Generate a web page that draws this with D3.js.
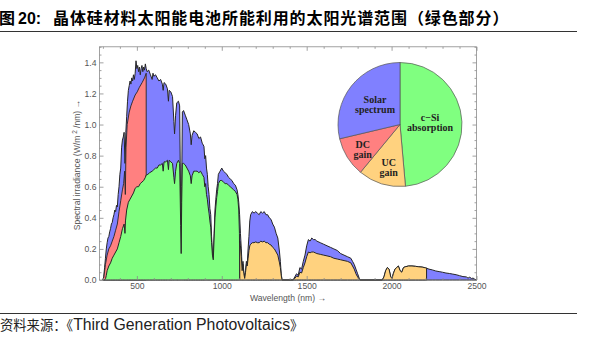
<!DOCTYPE html>
<html><head><meta charset="utf-8">
<script src="https://cdn.jsdelivr.net/npm/d3@7"></script>
<style>body{margin:0;background:#fff}svg{display:block}</style>
</head><body>
<svg id="c" width="593" height="340"></svg>
<script>
// ---------- DATA ----------
const titleCN = "晶体硅材料太阳能电池所能利用的太阳光谱范围（绿色部分）";
const sourceCN = "资料来源：《";
const sourceEN = "Third Generation Photovoltaics";
const xLabel = "Wavelength (nm) →";
const xTicks = [500, 1000, 1500, 2000, 2500];
const yTicks = [0, 0.2, 0.4, 0.6, 0.8, 1.0, 1.2, 1.4];

// AM1.5 solar spectrum outline [nm, W/m2/nm]
const solarSpectrum = [[300,0],[305,0.02],[310,0.08],[315,0.14],[320,0.2],[325,0.24],[330,0.27],[335,0.28],[340,0.31],[345,0.33],[350,0.36],[355,0.37],[360,0.4],[365,0.42],[370,0.45],[375,0.44],[380,0.48],[385,0.47],[390,0.55],[395,0.6],[400,0.68],[405,0.72],[410,0.85],[415,0.9],[420,0.92],[425,0.95],[430,0.75],[435,0.95],[440,1.05],[445,1.15],[450,1.22],[455,1.25],[460,1.28],[465,1.26],[470,1.3],[475,1.28],[480,1.32],[485,1.29],[490,1.33],[495,1.41],[500,1.36],[505,1.38],[510,1.34],[515,1.37],[520,1.32],[525,1.36],[530,1.38],[535,1.34],[540,1.37],[545,1.35],[550,1.39],[555,1.36],[560,1.34],[570,1.35],[580,1.32],[590,1.29],[595,1.33],[600,1.31],[610,1.32],[620,1.3],[630,1.28],[640,1.29],[650,1.26],[655,1.22],[660,1.27],[670,1.26],[680,1.23],[686,1.15],[690,1.22],[700,1.21],[710,1.18],[718,1.02],[722,0.94],[728,1.06],[735,1.14],[745,1.15],[752,1.12],[758,0.45],[761,0.17],[764,0.6],[768,1.08],[775,1.09],[785,1.06],[795,1.03],[805,1.0],[815,0.94],[820,0.87],[825,0.93],[835,0.96],[845,0.95],[855,0.94],[865,0.91],[875,0.92],[885,0.88],[895,0.86],[900,0.78],[905,0.8],[910,0.72],[915,0.68],[920,0.6],[925,0.55],[930,0.46],[935,0.42],[940,0.28],[945,0.18],[950,0.14],[955,0.3],[960,0.45],[965,0.52],[970,0.58],[975,0.62],[980,0.68],[990,0.7],[1000,0.72],[1010,0.7],[1020,0.69],[1030,0.68],[1040,0.66],[1050,0.65],[1060,0.64],[1070,0.62],[1080,0.61],[1090,0.58],[1095,0.55],[1100,0.5],[1105,0.42],[1110,0.3],[1115,0.2],[1120,0.08],[1125,0.12],[1130,0.05],[1135,0.02],[1140,0.06],[1145,0.12],[1150,0.1],[1155,0.2],[1160,0.28],[1165,0.38],[1170,0.42],[1180,0.44],[1190,0.43],[1200,0.44],[1210,0.43],[1220,0.42],[1230,0.44],[1240,0.43],[1250,0.44],[1260,0.42],[1270,0.42],[1280,0.4],[1290,0.39],[1300,0.36],[1310,0.34],[1320,0.3],[1330,0.27],[1340,0.18],[1345,0.12],[1350,0.04],[1355,0],[1420,0],[1430,0.02],[1440,0.04],[1450,0.03],[1460,0.08],[1470,0.07],[1480,0.12],[1490,0.16],[1500,0.22],[1510,0.26],[1520,0.25],[1530,0.27],[1540,0.26],[1550,0.26],[1560,0.25],[1580,0.24],[1600,0.23],[1620,0.22],[1640,0.21],[1660,0.2],[1680,0.19],[1700,0.17],[1720,0.16],[1740,0.15],[1760,0.14],[1770,0.12],[1780,0.1],[1790,0.07],[1800,0.04],[1810,0.01],[1815,0],[1945,0],[1955,0.02],[1965,0.06],[1975,0.08],[1985,0.07],[1995,0.02],[2003,0.01],[2010,0.04],[2020,0.07],[2030,0.08],[2040,0.09],[2050,0.06],[2060,0.05],[2070,0.08],[2080,0.085],[2100,0.09],[2120,0.09],[2140,0.088],[2160,0.085],[2180,0.083],[2200,0.078],[2220,0.07],[2240,0.065],[2260,0.058],[2280,0.054],[2300,0.05],[2320,0.045],[2340,0.042],[2360,0.038],[2380,0.034],[2400,0.028],[2420,0.022],[2440,0.02],[2450,0.012],[2460,0.018],[2470,0.01],[2480,0.012],[2490,0.005],[2500,0]];

// c-Si absorbed part (green)
const siAbsorption = [[300,0],[310,0],[316,0.01],[320,0.03],[325,0.06],[335,0.09],[345,0.11],[355,0.14],[365,0.16],[375,0.18],[385,0.2],[395,0.24],[405,0.28],[415,0.33],[425,0.36],[430,0.3],[433,0.38],[440,0.45],[450,0.5],[460,0.52],[470,0.54],[480,0.56],[490,0.59],[500,0.6],[510,0.6],[520,0.62],[530,0.63],[540,0.64],[550,0.66],[555,0.675],[565,0.68],[575,0.69],[590,0.7],[600,0.71],[610,0.72],[620,0.72],[630,0.74],[640,0.74],[650,0.75],[655,0.7],[660,0.76],[670,0.76],[680,0.77],[686,0.71],[690,0.77],[700,0.76],[710,0.75],[718,0.66],[722,0.62],[728,0.7],[735,0.75],[745,0.77],[752,0.75],[758,0.35],[761,0.17],[764,0.5],[768,0.75],[775,0.75],[785,0.74],[795,0.72],[805,0.7],[815,0.67],[820,0.62],[825,0.67],[835,0.7],[845,0.7],[855,0.7],[865,0.69],[875,0.7],[885,0.68],[895,0.66],[900,0.6],[905,0.62],[910,0.55],[915,0.52],[920,0.47],[925,0.43],[930,0.38],[935,0.34],[940,0.24],[945,0.16],[950,0.13],[955,0.27],[960,0.4],[965,0.47],[970,0.53],[975,0.57],[980,0.62],[990,0.64],[1000,0.64],[1010,0.63],[1020,0.62],[1030,0.62],[1040,0.61],[1050,0.6],[1060,0.59],[1070,0.58],[1080,0.57],[1090,0.55],[1095,0.52],[1100,0.45],[1104,0.3],[1106,0]];

// down-conversion gain (red) upper edge
const dcGain = [[300,0],[306,0.02],[315,0.1],[325,0.16],[335,0.2],[345,0.22],[355,0.25],[365,0.28],[375,0.32],[385,0.36],[395,0.44],[405,0.51],[415,0.58],[422,0.62],[428,0.7],[432,0.55],[436,0.85],[443,1.0],[455,1.08],[465,1.12],[475,1.15],[490,1.19],[502,1.21],[515,1.24],[531,1.27],[545,1.3],[555,1.33],[555,0]];

// up-conversion gain (orange) upper edge
const ucGain = [[1106,0],[1106,0.25],[1110,0.22],[1115,0.15],[1120,0.06],[1125,0.1],[1130,0.04],[1135,0.01],[1140,0.05],[1145,0.1],[1150,0.09],[1155,0.14],[1160,0.19],[1165,0.22],[1170,0.23],[1180,0.24],[1190,0.24],[1200,0.245],[1210,0.24],[1220,0.24],[1230,0.25],[1240,0.245],[1250,0.25],[1260,0.24],[1270,0.24],[1280,0.23],[1290,0.225],[1300,0.21],[1310,0.2],[1320,0.18],[1330,0.16],[1340,0.11],[1345,0.08],[1350,0.03],[1355,0],[1420,0],[1430,0.01],[1440,0.025],[1450,0.02],[1460,0.05],[1470,0.045],[1480,0.08],[1490,0.11],[1500,0.15],[1510,0.18],[1520,0.175],[1530,0.18],[1540,0.18],[1550,0.175],[1560,0.17],[1580,0.165],[1600,0.16],[1620,0.155],[1640,0.15],[1660,0.14],[1680,0.135],[1700,0.13],[1720,0.125],[1740,0.12],[1760,0.11],[1770,0.09],[1780,0.07],[1790,0.04],[1800,0.02],[1810,0.005],[1815,0],[1945,0],[1955,0.02],[1965,0.06],[1975,0.08],[1985,0.07],[1995,0.02],[2003,0.01],[2010,0.04],[2020,0.07],[2030,0.08],[2040,0.09],[2050,0.06],[2060,0.05],[2070,0.08],[2080,0.085],[2100,0.09],[2120,0.09],[2140,0.088],[2160,0.085],[2180,0.083],[2200,0.078],[2206,0.077],[2206,0]];

// pie shares (clockwise from top)
const pieLabels = [["c−Si","absorption"],["UC","gain"],["DC","gain"],["Solar","spectrum"]];
const pieValues = [48.6, 12.4, 10.3, 28.7];
const pieColors = ["#80ff80","#ffd27f","#ff8080","#8080ff"];

// ---------- DRAW ----------
const svg = d3.select("#c");
const x = d3.scaleLinear().domain([280, 2500]).range([99.5, 476.5]);
const y = d3.scaleLinear().domain([0, 1.5]).range([280, 46.8]);

// title
const t = svg.append("text").attr("y", 24).attr("font-weight", "bold").attr("fill", "#000");
t.append("tspan").attr("x", -1).attr("font-family", "Noto Sans CJK SC").attr("font-size", 16).text("图");
t.append("tspan").attr("x", 18).attr("font-family", "Liberation Sans, Arial").attr("font-size", 16).text("20:");
t.append("tspan").attr("x", 53).attr("font-family", "Noto Sans CJK SC").attr("font-size", 16).attr("letter-spacing", 0.9).text(titleCN);
svg.append("line").attr("x1", 0).attr("x2", 577).attr("y1", 31.5).attr("y2", 31.5).attr("stroke", "#333").attr("stroke-width", 1);

// source
svg.append("line").attr("x1", 0).attr("x2", 577).attr("y1", 313.5).attr("y2", 313.5).attr("stroke", "#333").attr("stroke-width", 1);
const s = svg.append("text").attr("y", 330).attr("fill", "#222");
s.append("tspan").attr("x", 0).attr("font-family", "Noto Sans CJK SC").attr("font-size", 13.3).text(sourceCN);
s.append("tspan").attr("font-family", "Liberation Sans, Arial").attr("font-size", 15.8).text(sourceEN);
s.append("tspan").attr("font-family", "Noto Sans CJK SC").attr("font-size", 13.3).text("》");

// areas
const area = d3.area().x(d => x(d[0])).y0(y(0)).y1(d => y(d[1]));
const edge = "#262626";
const plot = svg.append("g");
plot.append("path").datum(solarSpectrum).attr("d", area).attr("fill", "#8080ff").attr("stroke", edge).attr("stroke-width", 1).attr("stroke-linejoin", "round");
plot.append("path").datum(dcGain).attr("d", area).attr("fill", "#ff8080").attr("stroke", edge).attr("stroke-width", 0.9).attr("stroke-linejoin", "round");
plot.append("path").datum(siAbsorption).attr("d", area).attr("fill", "#80ff80").attr("stroke", edge).attr("stroke-width", 1).attr("stroke-linejoin", "round");
plot.append("path").datum(ucGain).attr("d", area).attr("fill", "#ffd27f").attr("stroke", edge).attr("stroke-width", 1).attr("stroke-linejoin", "round");

// frame + ticks
const fc = "#8a8a8a";
const minorX = d3.range(300, 2501, 100).filter(v => v % 500 !== 0);
const minorY = d3.range(0, 1.501, 0.05).filter(v => Math.abs(v * 5 - Math.round(v * 5)) > 1e-6);
function styleAxis(g) {
  g.select(".domain").remove();
  g.selectAll("line").attr("stroke", fc).attr("stroke-width", 0.8);
  g.selectAll("text").attr("fill", "#555").attr("font-family", "Liberation Sans, Arial").attr("font-size", 8.6);
}
svg.append("g").attr("transform", "translate(0,280)").call(d3.axisBottom(x).tickValues(xTicks).tickFormat(d3.format("d")).tickSizeInner(-4).tickSizeOuter(0).tickPadding(3)).call(styleAxis);
svg.append("g").attr("transform", "translate(0,280)").call(d3.axisBottom(x).tickValues(minorX).tickFormat("").tickSizeInner(-2).tickSizeOuter(0)).call(styleAxis);
svg.append("g").attr("transform", "translate(0,46.8)").call(d3.axisTop(x).tickValues(xTicks).tickFormat("").tickSizeInner(-4).tickSizeOuter(0)).call(styleAxis);
svg.append("g").attr("transform", "translate(0,46.8)").call(d3.axisTop(x).tickValues(minorX).tickFormat("").tickSizeInner(-2).tickSizeOuter(0)).call(styleAxis);
svg.append("g").attr("transform", "translate(99.5,0)").call(d3.axisLeft(y).tickValues(yTicks).tickFormat(d3.format(".1f")).tickSizeInner(-4).tickSizeOuter(0).tickPadding(3)).call(styleAxis);
svg.append("g").attr("transform", "translate(99.5,0)").call(d3.axisLeft(y).tickValues(minorY).tickFormat("").tickSizeInner(-2).tickSizeOuter(0)).call(styleAxis);
svg.append("g").attr("transform", "translate(476.5,0)").call(d3.axisRight(y).tickValues(yTicks).tickFormat("").tickSizeInner(-4).tickSizeOuter(0)).call(styleAxis);
svg.append("g").attr("transform", "translate(476.5,0)").call(d3.axisRight(y).tickValues(minorY).tickFormat("").tickSizeInner(-2).tickSizeOuter(0)).call(styleAxis);
svg.append("rect").attr("x", 99.5).attr("y", 46.8).attr("width", 377).attr("height", 233.2).attr("fill", "none").attr("stroke", fc).attr("stroke-width", 0.8);

// axis labels
svg.append("text").attr("x", 288).attr("y", 301).attr("text-anchor", "middle").attr("fill", "#555")
  .attr("font-family", "Liberation Sans, Arial").attr("font-size", 8.6).text(xLabel);
const yl = svg.append("text").attr("transform", "translate(80,165) rotate(-90)").attr("text-anchor", "middle").attr("fill", "#555")
  .attr("font-family", "Liberation Sans, Arial").attr("font-size", 8.6);
yl.append("tspan").text("Spectral irradiance (W/m");
yl.append("tspan").attr("dx", 2).attr("dy", -3).attr("font-size", 6.5).text("2");
yl.append("tspan").attr("dx", 2).attr("dy", 3).text("/nm) →");

// pie
const cx = 400, cy = 124.5, R = 62;
const pie = d3.pie().sort(null).value(d => d)(pieValues);
const arc = d3.arc().innerRadius(0).outerRadius(R);
const pg = svg.append("g").attr("transform", `translate(${cx},${cy})`);
pg.selectAll("path").data(pie).join("path").attr("d", arc)
  .attr("fill", (d, i) => pieColors[i]).attr("stroke", "#555").attr("stroke-width", 0.7);
const labelPos = [[30, -2.5], [-11.3, 42.5], [-37.3, 24.5], [-25, -20.5]];
pg.selectAll("text.pl").data(pieLabels).join("text").attr("class", "pl")
  .attr("text-anchor", "middle").attr("font-family", "Liberation Serif, Times New Roman, serif")
  .attr("font-weight", "bold").attr("font-size", 10).attr("fill", "#222")
  .each(function (d, i) {
    const el = d3.select(this);
    el.append("tspan").attr("x", labelPos[i][0]).attr("y", labelPos[i][1] - 1.5).text(d[0]);
    el.append("tspan").attr("x", labelPos[i][0]).attr("y", labelPos[i][1] + 8.8).text(d[1]);
  });
</script>
</body></html>
